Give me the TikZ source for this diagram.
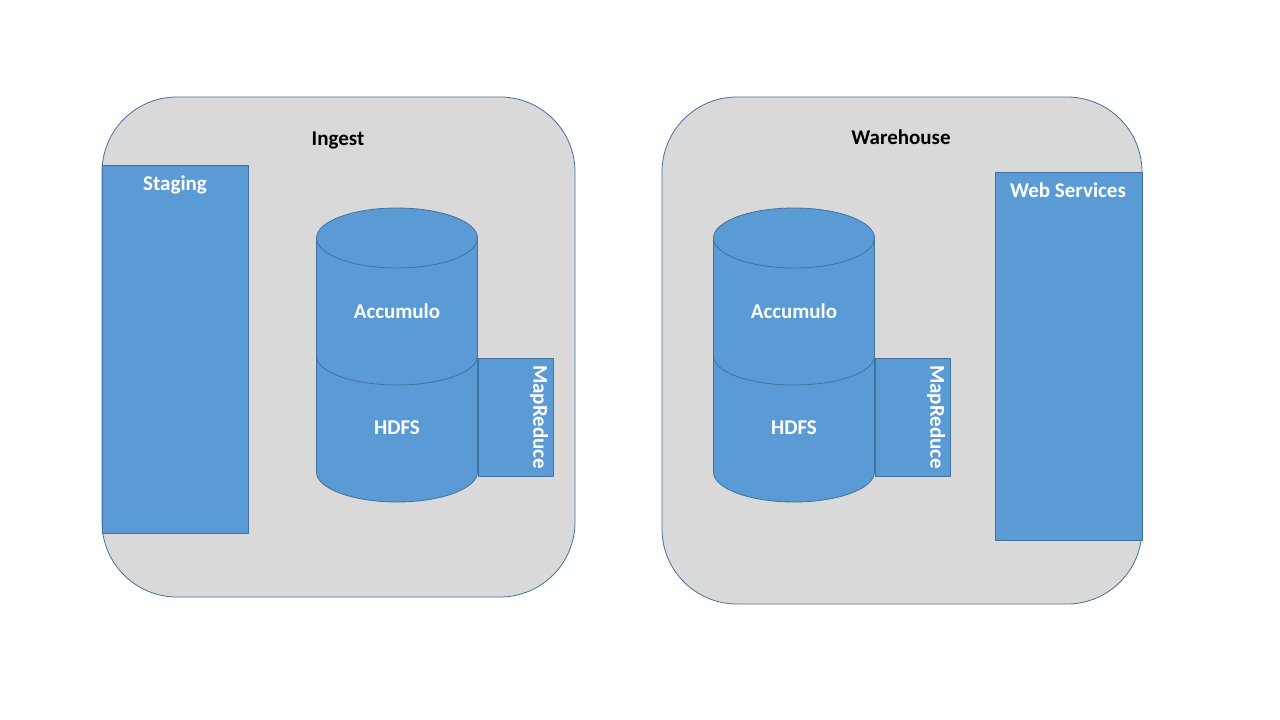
\documentclass[tikz,border=0pt]{standalone}
\usepackage{fontspec}
\setmainfont{Carlito}
\usepackage{tikz}
\definecolor{boxblue}{HTML}{5B9BD5}
\definecolor{edgeblue}{HTML}{41719C}
\definecolor{panelgray}{HTML}{D9D9D9}

\begin{document}
\begin{tikzpicture}[line cap=round,line join=round,x=1pt,y=-1pt,
  panel/.style={fill=panelgray,draw=edgeblue,line width=0.8pt,rounded corners=75pt},
  part/.style={fill=boxblue,draw=edgeblue,line width=0.8pt},
  paneltitle/.style={font=\fontsize{21}{25}\selectfont\bfseries},
  parttext/.style={font=\fontsize{21}{25}\selectfont\bfseries,text=white}]
\useasboundingbox (0,0) rectangle (1280,720);

%panels
\draw[panel] (102,97) rectangle (575,597);
\draw[panel] (662,97) rectangle (1142,604);
\node[paneltitle] (ingest) at (338,140) {Ingest};
\node[paneltitle] (warehouse) at (901,137) {Warehouse};

%side boxes
\draw[part] (102,165) rectangle (248,533);
\node[parttext] (staging) at (175,185) {Staging};
\draw[part] (995,172) rectangle (1142,540);
\node[parttext] (websrv) at (1068,190) {Web Services};

%cylinders with mapreduce
\foreach \cx/\nm in {397/ing,794/wh}
{
\draw[part] (\cx-80.5,238) -- (\cx-80.5,472)
  arc[start angle=180,end angle=0,x radius=80.5,y radius=30] -- (\cx+80.5,238);
\draw[part] (\cx,238) ellipse[x radius=80.5,y radius=30];
\draw[edgeblue,line width=0.8pt] (\cx-80.5,356)
  arc[start angle=180,end angle=0,x radius=80.5,y radius=29];
\draw[part] (\cx+81,358) rectangle (\cx+156,476);
\node[parttext] (acc\nm) at (\cx,311) {Accumulo};
\node[parttext] (hdfs\nm) at (\cx,428) {HDFS};
\node[parttext,rotate=-90] (mr\nm) at (\cx+142,417) {MapReduce};
}
\end{tikzpicture}
\end{document}
